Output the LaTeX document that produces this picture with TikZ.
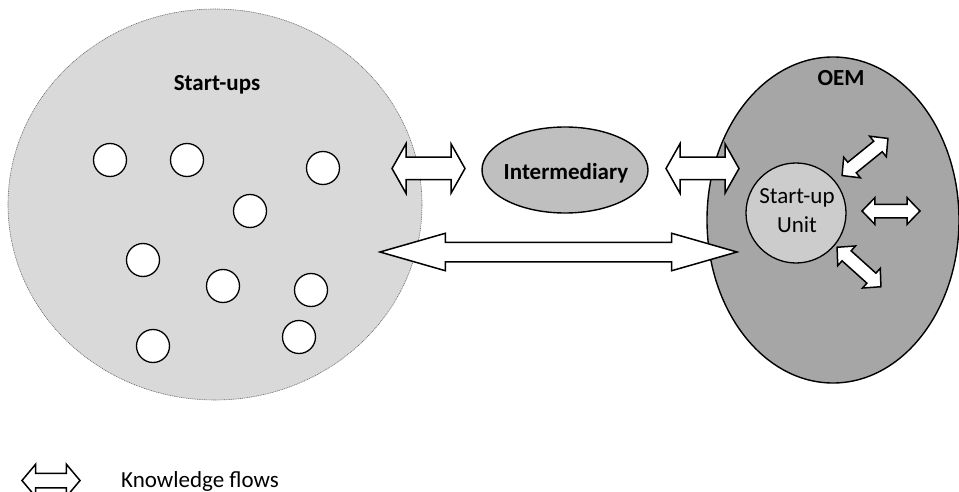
\documentclass[tikz,border=0pt]{standalone}
\usepackage{fontspec}
\setmainfont{Carlito}
\usetikzlibrary{shapes.arrows,shapes.geometric}
\begin{document}
\begin{tikzpicture}[x=1pt,y=-1pt,
  txt/.style={font=\fontsize{23}{28}\selectfont, inner sep=0pt},
  btxt/.style={font=\bfseries\fontsize{23}{28}\selectfont, inner sep=0pt},
  firm/.style={circle, draw=black, line width=1.3pt, fill=white, minimum size=33pt, inner sep=0pt},
  flow/.style={double arrow, draw=black, line width=1.5pt, fill=white, inner xsep=0pt, minimum width=0pt},
]
\useasboundingbox (0,0) rectangle (959,492);
% big areas
\node[ellipse, draw=gray!80!black, line width=0.6pt, dash pattern=on 1pt off 0.8pt,
      fill=black!15, minimum width=414pt, minimum height=391pt, inner sep=0pt] (startups) at (215,204.5) {};
\node[ellipse, draw=black, line width=1.4pt, fill=black!35, minimum width=252pt, minimum height=326pt, inner sep=0pt] (oem) at (833,220) {};
\node[ellipse, draw=black, line width=1.4pt, fill=black!25, minimum width=166pt, minimum height=86pt, inner sep=0pt] (inter) at (565,170) {};
\node[circle, draw=black, line width=1.3pt, fill=black!20, minimum size=100pt, inner sep=0pt] (unit) at (796,213) {};
% labels
\node[btxt, anchor=base] (lstart) at (217,91) {Start-ups};
\node[btxt, anchor=base] (loem) at (841,86) {OEM};
\node[btxt, anchor=base] (linter) at (566,179) {Intermediary};
\node[txt, anchor=base] (lunit1) at (797,204) {Start-up};
\node[txt, anchor=base] (lunit2) at (797,232) {Unit};
% start-up firms
\node[firm] (f1) at (110,160) {};
\node[firm] (f2) at (187,160) {};
\node[firm] (f3) at (323,168) {};
\node[firm] (f4) at (250,211) {};
\node[firm] (f5) at (143,260) {};
\node[firm] (f6) at (223,286) {};
\node[firm] (f7) at (311,290) {};
\node[firm] (f8) at (153,346) {};
\node[firm] (f9) at (299,337) {};
% knowledge flows
\node[flow, minimum height=73pt, inner ysep=10.5pt, double arrow head extend=13.5pt, double arrow tip angle=121] (a1) at (428.5,168.5) {};
\node[flow, minimum height=73pt, inner ysep=10.5pt, double arrow head extend=13.5pt, double arrow tip angle=121] (a2) at (702.5,168.5) {};
\node[flow, minimum height=357pt, inner ysep=9pt, double arrow head extend=9pt, double arrow tip angle=32] (a3) at (558.5,252) {};
\node[flow, minimum height=58pt, inner ysep=6pt, double arrow head extend=6.5pt, double arrow tip angle=92] (a4) at (891,211) {};
\node[flow, minimum height=59pt, inner ysep=6pt, double arrow head extend=6.5pt, double arrow tip angle=92, rotate=39] (a5) at (865,157) {};
\node[flow, minimum height=59pt, inner ysep=6pt, double arrow head extend=6.5pt, double arrow tip angle=92, rotate=-42] (a6) at (859,267) {};
% legend
\node[flow, minimum height=58pt, inner ysep=6.5pt, double arrow head extend=9pt, double arrow tip angle=100] (leg) at (51,480.5) {};
\node[txt, anchor=base west] (legtxt) at (121,487) {Knowledge flows};
\end{tikzpicture}
\end{document}
